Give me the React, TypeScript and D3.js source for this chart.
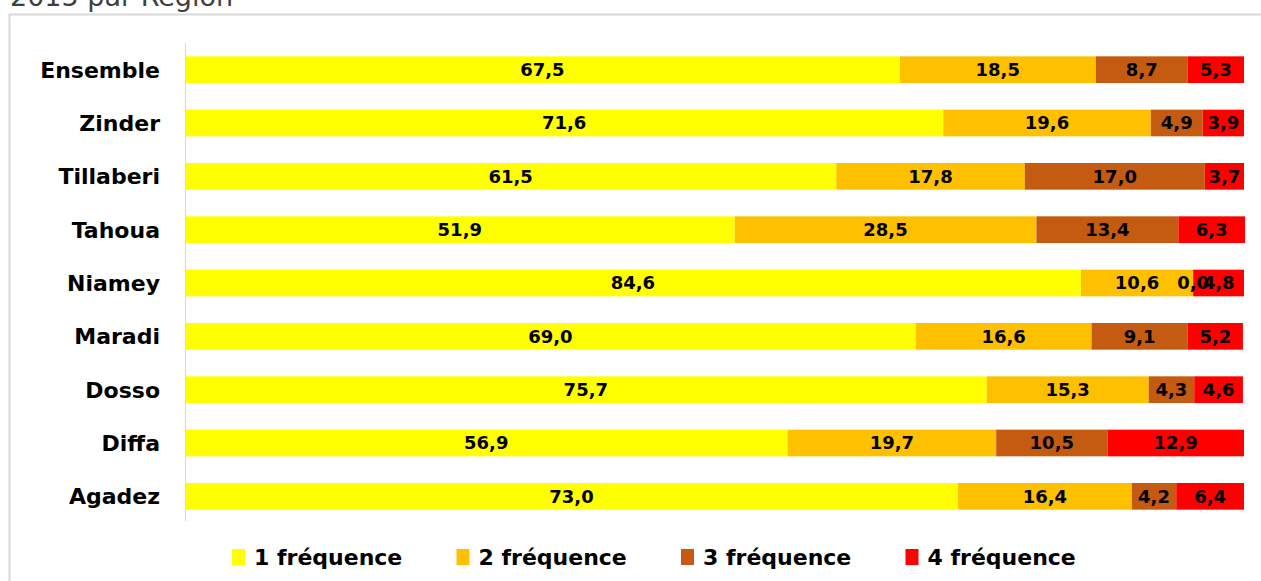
import React from "react";
import * as d3 from "d3";

const categories = ["Ensemble", "Zinder", "Tillaberi", "Tahoua", "Niamey", "Maradi", "Dosso", "Diffa", "Agadez"];
const freq1 = [67.5, 71.6, 61.5, 51.9, 84.6, 69.0, 75.7, 56.9, 73.0];
const freq2 = [18.5, 19.6, 17.8, 28.5, 10.6, 16.6, 15.3, 19.7, 16.4];
const freq3 = [8.7, 4.9, 17.0, 13.4, 0.0, 9.1, 4.3, 10.5, 4.2];
const freq4 = [5.3, 3.9, 3.7, 6.3, 4.8, 5.2, 4.6, 12.9, 6.4];
const seriesNames = ["1 fréquence", "2 fréquence", "3 fréquence", "4 fréquence"];
const seriesColors = ["#FFFF00", "#FFC000", "#C55A11", "#FF0000"];

export default function App() {
  const W = 1261, H = 581;
  const x0 = 185, x1 = 1244;
  const x = d3.scaleLinear().domain([0, 100]).range([x0, x1]);
  const y = d3.scaleBand().domain(categories).range([43, 523]).paddingInner(0.5).paddingOuter(0.25);
  const series = [freq1, freq2, freq3, freq4];
  const fmt = (v: number) => v.toFixed(1).replace(".", ",");
  const font = "'DejaVu Sans', sans-serif";

  const rects: React.ReactNode[] = [];
  const labels: React.ReactNode[] = [];
  categories.forEach((c, i) => {
    let acc = 0;
    series.forEach((s, k) => {
      const v = s[i];
      const xa = x(acc), xb = x(acc + v);
      acc += v;
      const yy = y(c)!;
      rects.push(
        <rect key={`r${i}-${k}`} x={xa} y={yy} width={xb - xa} height={y.bandwidth()} fill={seriesColors[k]} />
      );
      labels.push(
        <text key={`t${i}-${k}`} x={(xa + xb) / 2} y={yy + y.bandwidth() / 2} dy="0.36em" textAnchor="middle"
          fontSize={18} fontWeight="bold" fill="#000" fontFamily={font}>{fmt(v)}</text>
      );
    });
  });

  return (
    <svg width={W} height={H} style={{ position: "absolute", left: 0, top: 0 }}>
      <rect x={0} y={0} width={W} height={H} fill="#fff" />
      <text x={10} y={6} fontSize={27} fill="#404040" fontFamily={font}>2015 par Région</text>
      <rect x={9.5} y={14.5} width={W + 20} height={H + 20} fill="none" stroke="#d9d9d9" strokeWidth={2} />
      {rects}
      {labels}
      <line x1={x0 + 0.5} x2={x0 + 0.5} y1={43} y2={521} stroke="#d9d9d9" strokeWidth={1} />
      {categories.map((c) => (
        <text key={c} x={160} y={y(c)! + y.bandwidth() / 2} dy="0.36em" textAnchor="end"
          fontSize={22} fontWeight="bold" fill="#000" fontFamily={font}>{c}</text>
      ))}
      {seriesNames.map((n, k) => {
        const lx = 232 + k * 224.5;
        return (
          <g key={n}>
            <rect x={lx} y={549} width={13} height={16} fill={seriesColors[k]} />
            <text x={lx + 22} y={557} dy="0.36em" fontSize={22} fontWeight="bold" fill="#000" fontFamily={font}>{n}</text>
          </g>
        );
      })}
    </svg>
  );
}
